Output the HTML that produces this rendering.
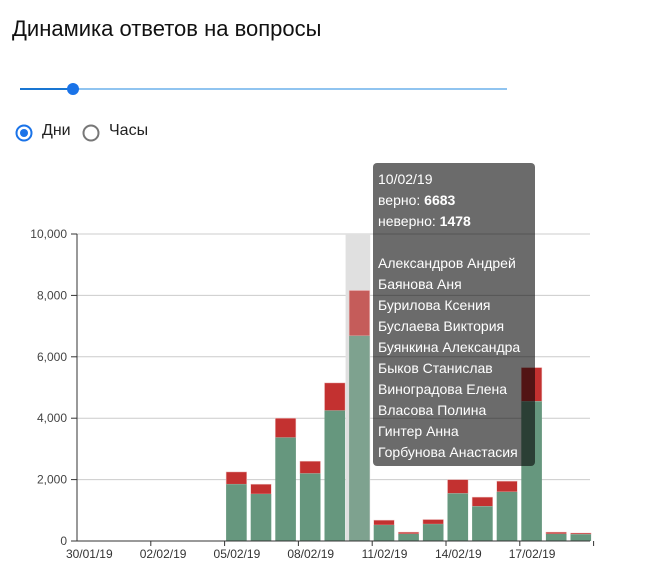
<!DOCTYPE html>
<html><head><meta charset="utf-8"><style>
body{margin:0;width:651px;height:582px;background:#fff;font-family:"Liberation Sans","Noto Sans CJK SC",sans-serif;position:relative;overflow:hidden}
.title{position:absolute;left:12px;top:16px;font-size:22px;color:#111}
.rad{position:absolute;top:122px;font-size:16px;color:#222}
.tip{position:absolute;left:373px;top:163px;width:162px;height:303px;background:rgba(0,0,0,0.58);border-radius:4px;color:#fff;font-size:14px;line-height:21px;padding:6px 0 0 5px;box-sizing:border-box}
</style></head><body>
<div class="title">Динамика ответов на вопросы</div>
<svg style="position:absolute;left:0;top:0" width="651" height="160">
<line x1="20" y1="89" x2="507" y2="89" stroke="#90c4f0" stroke-width="2"/>
<line x1="20" y1="89" x2="73" y2="89" stroke="#1976d2" stroke-width="2"/>
<circle cx="73" cy="89" r="6" fill="#1a73e8"/>
<circle cx="24" cy="133" r="7.5" fill="none" stroke="#1a73e8" stroke-width="2"/>
<circle cx="24" cy="133" r="4" fill="#1a73e8"/>
<circle cx="91" cy="133" r="7.5" fill="none" stroke="#777" stroke-width="2"/>
</svg>
<div class="rad" style="left:42px">Дни</div>
<div class="rad" style="left:109px">Часы</div>
<svg id="chart" style="position:absolute;left:0;top:0" width="651" height="582"></svg>
<div class="tip">10/02/19<br>верно: <b>6683</b><br>неверно: <b>1478</b><br><br>Александров Андрей<br>Баянова Аня<br>Бурилова Ксения<br>Буслаева Виктория<br>Буянкина Александра<br>Быков Станислав<br>Виноградова Елена<br>Власова Полина<br>Гинтер Анна<br>Горбунова Анастасия</div>
<script>
const days=["30/01/19","31/01/19","01/02/19","02/02/19","03/02/19","04/02/19","05/02/19","06/02/19","07/02/19","08/02/19","09/02/19","10/02/19","11/02/19","12/02/19","13/02/19","14/02/19","15/02/19","16/02/19","17/02/19","18/02/19","19/02/19"];
const correct=[0,0,0,0,0,0,1850,1530,3370,2200,4250,6683,520,230,550,1550,1130,1600,4550,230,220];
const wrong=[0,0,0,0,0,0,400,320,630,400,900,1478,160,60,150,450,300,350,1100,60,40];
const yTicks=[0,2000,4000,6000,8000,10000];
const highlight=11;
const svg=document.getElementById('chart');const NS='http://www.w3.org/2000/svg';
const x0=77,bw=24.6,y0=541,yTop=234,yMax=10000;
const X=i=>x0+i*bw;const Y=v=>y0-(v/yMax)*(y0-yTop);
function mk(t,a,p){const e=document.createElementNS(NS,t);for(const k in a)e.setAttribute(k,a[k]);(p||svg).appendChild(e);return e;}
yTicks.forEach(v=>{
 if(v>0){const g=mk('line',{x1:x0,x2:590,y1:Y(v),y2:Y(v),stroke:'#ccc'});
 
 }
 mk('line',{x1:71,x2:x0,y1:Y(v),y2:Y(v),stroke:'#333'});
 const t=mk('text',{x:67,y:Y(v)+4,'text-anchor':'end','font-size':12,fill:'#444'});t.textContent=v.toLocaleString('en-US');
 
 
});
const band=mk('rect',{x:X(highlight)-2,y:yTop,width:bw,height:y0-yTop,fill:'#e0e0e0'});


days.forEach((d,i)=>{
 const h=i===highlight;
 if(correct[i]+wrong[i]>0){
 const r1=mk('rect',{x:X(i)+1.5,y:Y(correct[i]+wrong[i]),width:bw-4,height:Y(correct[i])-Y(correct[i]+wrong[i]),fill:h?'#c55c5a':'#c33130',stroke:'#f0c8c8','stroke-width':0.5});
 
 
 const r2=mk('rect',{x:X(i)+1.5,y:Y(correct[i]),width:bw-4,height:y0-Y(correct[i]),fill:h?'#7ea28f':'#66977e'});
 
 }
 if(i%3===0){const t=mk('text',{x:X(i)+bw/2,y:558,'text-anchor':'middle','font-size':12,fill:'#333'});t.textContent=d;
 
 }
 if(i%3===2)mk('line',{x1:X(i+1),x2:X(i+1),y1:y0,y2:y0+5,stroke:'#333'});
});
mk('line',{x1:x0,x2:x0,y1:yTop,y2:y0,stroke:'#333'});
mk('line',{x1:x0,x2:590,y1:y0,y2:y0,stroke:'#333'});
</script>
</body></html>
